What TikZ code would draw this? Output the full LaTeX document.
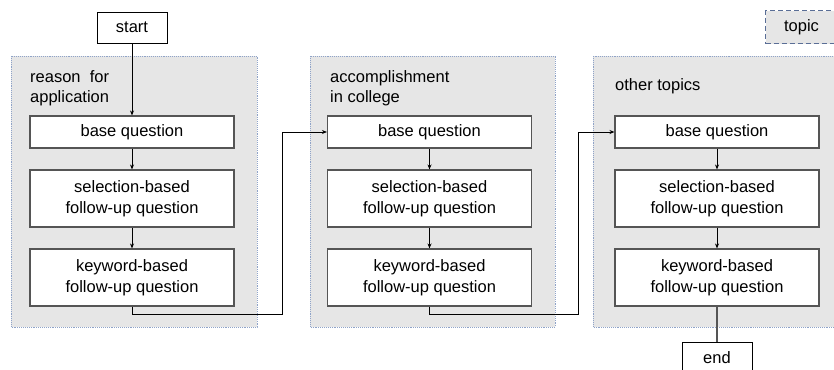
\documentclass[tikz,border=0pt]{standalone}
\usepackage{fontspec}
\setmainfont{Liberation Sans}
\usetikzlibrary{arrows.meta}
\definecolor{grpfill}{HTML}{E6E6E6}
\definecolor{grpline}{HTML}{8FA3C8}
\definecolor{topicline}{HTML}{5A6E96}
\definecolor{boxline}{HTML}{555555}
\tikzset{
	qbox/.style={draw=boxline, line width=1.1pt, fill=white, minimum width=204pt, align=center, inner sep=0pt, font=\fontsize{16.5}{21}\selectfont},
	grp/.style={draw=grpline, densely dotted, line width=0.9pt, fill=grpfill},
	grplabel/.style={anchor=north west, align=left, inner sep=0pt, font=\fontsize{16.5}{20}\selectfont},
	conn/.style={line width=0.8pt, -{Stealth[length=5pt,width=4pt]}}
}
\begin{document}
\begin{tikzpicture}[x=1pt, y=-1pt]
	\useasboundingbox (0,0) rectangle (834,369);
	
	% Themenbereiche
	\draw[grp] (11,56) rectangle (257,327);
	\draw[grp] (310,56) rectangle (555,327);
	\draw[grp] (593,56) rectangle (840,327);
	\node[grplabel] (lab1) at (30,70) {reason\ \ for\\application};
	\node[grplabel] (lab2) at (330,70) {accomplishment\\in college};
	\node[grplabel] (lab3) at (615,78) {other topics};
	
	% Legende
	\node[draw=topicline, dash pattern=on 5pt off 3pt, line width=1.1pt, fill=grpfill, minimum width=72pt, minimum height=33pt, anchor=north west, font=\fontsize{16.5}{20}\selectfont] (topic) at (765,10) {topic};
	
	% Start und Ende
	\node[qbox, draw=black, line width=0.8pt, minimum width=70pt, minimum height=31pt] (start) at (132,27.5) {start};
	\node[qbox, draw=black, line width=0.8pt, minimum width=70pt, minimum height=31pt, anchor=north] (end) at (717,342) {end};
	
	% Fragen
	\foreach \g/\x in {1/132, 2/429.5, 3/717} {
		\node[qbox, minimum height=32pt] (base\g) at (\x,132) {base question};
		\node[qbox, minimum height=57pt] (sel\g) at (\x,198.5) {selection-based\\follow-up question};
		\node[qbox, minimum height=57pt] (key\g) at (\x,277.5) {keyword-based\\follow-up question};
		\draw[conn] (base\g) -- (sel\g);
		\draw[conn] (sel\g) -- (key\g);
	}
	
	% Verbindungen
	\draw[conn] (start) -- (base1);
	\draw[conn] (key1.south) -- ++(0,8) -| (282,132) -- (base2.west);
	\draw[conn] (key2.south) -- ++(0,8) -| (578,132) -- (base3.west);
	\draw[line width=1.1pt, draw=boxline] (key3) -- (end);
	
\end{tikzpicture}
\end{document}
